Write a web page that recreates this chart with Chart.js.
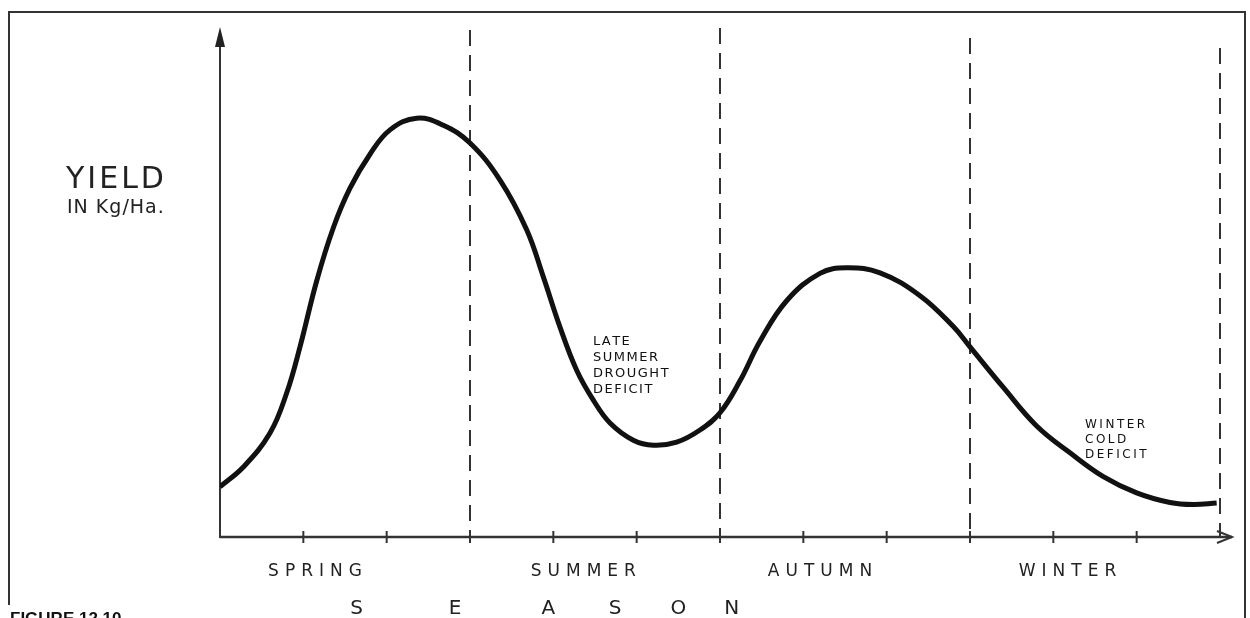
<!DOCTYPE html>
<html>
<head>
<meta charset="utf-8">
<script src="https://cdn.jsdelivr.net/npm/chart.js@4/dist/chart.umd.min.js"></script>
<style>
  body { margin: 0; background: #fff; }
  #chart { display: block; }
</style>
</head>
<body>
<canvas id="chart" width="1250" height="618"></canvas>
<script>
// time of year along the x axis (1 unit = 1 tick, 3 per season)
var seasonTime = [0, 0.28, 0.6, 0.8, 0.96, 1.16, 1.36, 1.56, 1.8, 2.04, 2.36, 2.68, 3.0,
  3.36, 3.68, 3.88, 4.08, 4.28, 4.48, 4.68, 4.96, 5.2, 5.48, 5.76, 6.0,
  6.24, 6.48, 6.8, 7.2, 7.52, 7.92, 8.4, 8.8, 9.0, 9.4, 9.8, 10.2, 10.6, 11.0, 11.4, 11.68, 11.96];
// relative yield (kg/ha, no scale on the sketch)
var yieldValues = [9.9, 13.8, 20.5, 28.4, 37.5, 50.5, 61.0, 68.8, 75.5, 80.3, 82.6, 81.2, 77.7,
  70.4, 60.6, 51.3, 41.4, 32.9, 27.0, 22.5, 19.1, 18.1, 18.7, 21.1, 24.5,
  30.8, 38.6, 46.6, 52.0, 53.1, 52.1, 47.6, 41.5, 37.5, 29.5, 21.9, 16.6, 11.9, 8.7, 6.8, 6.4, 6.7];
var seasons = ["SPRING", "SUMMER", "AUTUMN", "WINTER"];
var seasonEnds = [3, 6, 9, 12];
var tickValues = [1, 2, 3, 4, 5, 6, 7, 8, 9, 10, 11];
var axisTitle = "SEASON";
var yTitle = ["YIELD", "IN Kg/Ha."];
var summerNote = ["LATE", "SUMMER", "DROUGHT", "DEFICIT"];
var winterNote = ["WINTER", "COLD", "DEFICIT"];
var figureCaption = "FIGURE 12.10";

// where the hand lettering sits (in x axis units)
var seasonLabelAt = [1.14, 4.36, 7.2, 10.17];
var seasonLetterAt = [1.64, 2.82, 3.94, 4.74, 5.5, 6.14];
var dashTop = [30, 28, 38, 48];

var ink = "#222";

function spaced(ctx, text, x, y, gap) {
  var cx = x;
  for (var i = 0; i < text.length; i++) {
    ctx.fillText(text[i], cx, y);
    cx += ctx.measureText(text[i]).width + gap;
  }
  return cx - gap - x;
}
function spacedCenter(ctx, text, cx, y, gap) {
  var w = 0;
  for (var i = 0; i < text.length; i++) w += ctx.measureText(text[i]).width + gap;
  w -= gap;
  spaced(ctx, text, cx - w / 2, y, gap);
}

var sketchPlugin = {
  id: "sketch",
  beforeDatasetsDraw: function (chart) {
    var ctx = chart.ctx;
    var xs = chart.scales.x, ys = chart.scales.y;
    var x0 = xs.getPixelForValue(0), yb = ys.getPixelForValue(0), yt = ys.getPixelForValue(100);
    ctx.save();
    ctx.strokeStyle = "#333";
    ctx.fillStyle = ink;
    ctx.lineCap = "butt";

    // frame
    ctx.lineWidth = 2;
    ctx.beginPath();
    ctx.moveTo(9, 605); ctx.lineTo(9, 12); ctx.lineTo(1245, 12); ctx.lineTo(1245, 618);
    ctx.stroke();

    // season dividers
    ctx.setLineDash([16, 9]);
    ctx.lineWidth = 2;
    seasonEnds.forEach(function (v, i) {
      var px = xs.getPixelForValue(v);
      ctx.beginPath();
      ctx.moveTo(px, dashTop[i]);
      ctx.lineTo(px, yb);
      ctx.stroke();
    });
    ctx.setLineDash([]);

    // y axis with arrow
    ctx.lineWidth = 2;
    ctx.beginPath();
    ctx.moveTo(x0, yb + 1); ctx.lineTo(x0, yt + 10);
    ctx.stroke();
    ctx.beginPath();
    ctx.moveTo(x0, yt - 3); ctx.lineTo(x0 - 5, yt + 17); ctx.lineTo(x0 + 5, yt + 17);
    ctx.closePath(); ctx.fill();

    // x axis with arrow
    var xe = xs.getPixelForValue(12) + 12;
    ctx.lineWidth = 2.5;
    ctx.beginPath();
    ctx.moveTo(x0, yb); ctx.lineTo(xe, yb);
    ctx.stroke();
    ctx.lineWidth = 2;
    ctx.beginPath();
    ctx.moveTo(xe - 15, yb - 6); ctx.lineTo(xe, yb); ctx.lineTo(xe - 15, yb + 6);
    ctx.stroke();

    // ticks
    tickValues.forEach(function (v) {
      var px = xs.getPixelForValue(v);
      ctx.beginPath();
      ctx.moveTo(px, yb - 6); ctx.lineTo(px, yb + 6);
      ctx.stroke();
    });

    // season labels
    ctx.textBaseline = "alphabetic";
    ctx.font = "17px 'DejaVu Sans'";
    seasons.forEach(function (s, i) {
      spacedCenter(ctx, s, xs.getPixelForValue(seasonLabelAt[i]), yb + 39, 6);
    });

    // S E A S O N
    ctx.font = "20px 'DejaVu Sans'";
    ctx.textAlign = "center";
    for (var i = 0; i < axisTitle.length; i++) {
      ctx.fillText(axisTitle[i], xs.getPixelForValue(seasonLetterAt[i]), 614);
    }
    ctx.textAlign = "left";

    // y title
    ctx.font = "30px 'DejaVu Sans'";
    spaced(ctx, yTitle[0], 66, 188, 3);
    ctx.font = "19px 'DejaVu Sans'";
    spaced(ctx, yTitle[1], 67, 213, 1);

    // notes
    ctx.fillStyle = "#111";
    ctx.font = "13px 'DejaVu Sans'";
    summerNote.forEach(function (t, i) { spaced(ctx, t, 593, 345 + i * 16, 1.5); });
    ctx.font = "12px 'DejaVu Sans'";
    winterNote.forEach(function (t, i) { spaced(ctx, t, 1085, 428 + i * 15, 2.5); });

    // caption, cut by the page edge
    ctx.font = "bold 17px 'Liberation Sans Narrow', 'Liberation Sans'";
    ctx.textBaseline = "top";
    ctx.fillText(figureCaption, 10, 611);

    ctx.restore();
  }
};

var ctx = document.getElementById("chart").getContext("2d");
var myChart = new Chart(ctx, {
  type: "line",
  data: {
    datasets: [
      {
        label: "Yield",
        data: seasonTime.map(function (t, i) { return { x: t, y: yieldValues[i] }; }),
        borderColor: "#111",
        borderWidth: 5,
        borderJoinStyle: "round",
        pointRadius: 0,
        fill: false,
        tension: 0.4,
      },
    ],
  },
  options: {
    responsive: false,
    animation: false,
    layout: { padding: { left: 220, right: 30, top: 30, bottom: 81 } },
    scales: {
      x: { type: "linear", min: 0, max: 12, display: false },
      y: { min: 0, max: 100, display: false },
    },
    plugins: { legend: { display: false }, tooltip: { enabled: false } },
  },
  plugins: [sketchPlugin],
});
</script>
</body>
</html>
